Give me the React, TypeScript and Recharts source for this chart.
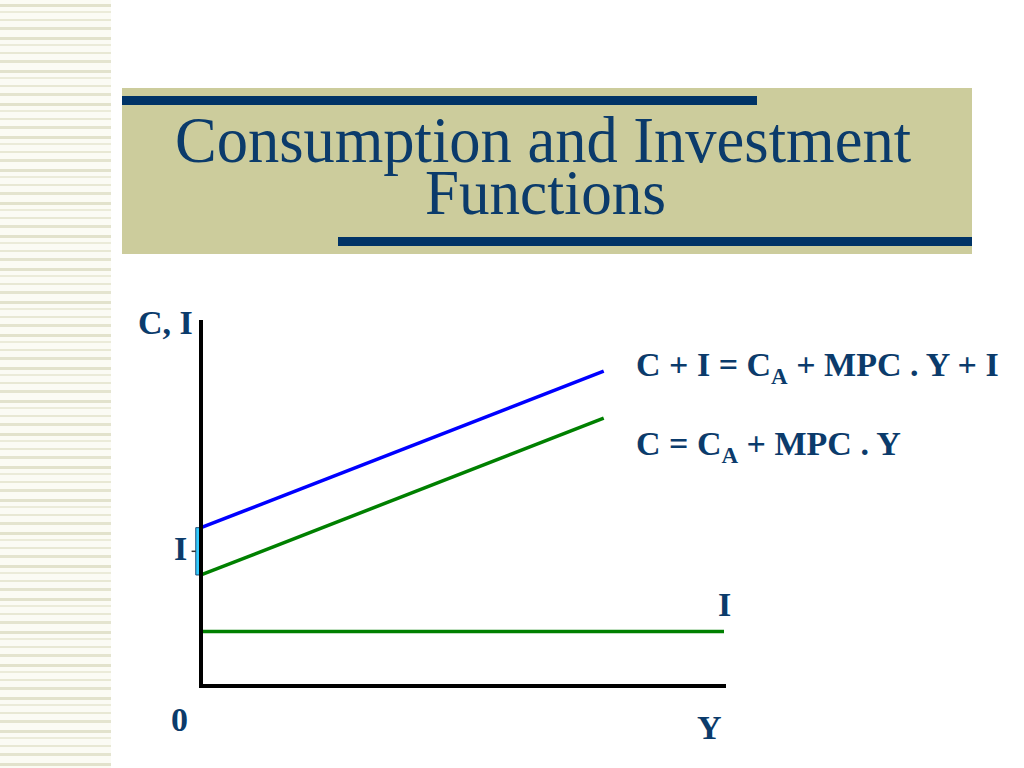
import { LineChart, Line, XAxis, YAxis, ReferenceLine, ReferenceArea } from 'recharts';

// income levels along the Y axis (0-100 scale)
const incomeLevels = [0, 77, 100];
// consumption C = CA + MPC . Y
const consumption = [30.5, 73.6, null];
// aggregate C + I
const consumptionPlusInvestment = [43.5, 86.5, null];
// autonomous investment I
const investment = [15, 15, 15];

const TEXT = '#0b3b6b';
const FONT = '"Liberation Serif", "Times New Roman", serif';

const chartData = incomeLevels.map((y, i) => ({
  income: y,
  c: consumption[i],
  ci: consumptionPlusInvestment[i],
  inv: investment[i],
}));

const stripes =
  'repeating-linear-gradient(to bottom, #fbfbf4 0px, #fbfbf4 4px, #e2e2cc 4px, #e2e2cc 7px, #fbfbf4 7px, #fbfbf4 11px, #ebebd9 11px, #ebebd9 13px, #fbfbf4 13px, #fbfbf4 19px, #e8e8d4 19px, #e8e8d4 21px, #fbfbf4 21px, #fbfbf4 27px, #e4e4cf 27px, #e4e4cf 30px, #fbfbf4 30px, #fbfbf4 33px)';

export default function App() {
  return (
    <div
      style={{
        position: 'absolute',
        left: 0,
        top: 0,
        width: 1024,
        height: 768,
        background: '#fff',
        overflow: 'hidden',
      }}
    >
      <div style={{ position: 'absolute', left: 0, top: 0, width: 111, height: 768, background: stripes }} />
      <div style={{ position: 'absolute', left: 122, top: 88, width: 850, height: 166, background: '#cccc9c' }} />
      <div style={{ position: 'absolute', left: 122, top: 96, width: 635, height: 9, background: '#003366' }} />
      <div style={{ position: 'absolute', left: 338, top: 237, width: 634, height: 9, background: '#003366' }} />

      <div style={{ position: 'absolute', left: 0, top: 0 }}>
        <LineChart
          width={1024}
          height={768}
          data={chartData}
          margin={{ top: 322, left: 201, right: 300, bottom: 82 }}
        >
          <XAxis dataKey="income" type="number" domain={[0, 100]} hide />
          <YAxis type="number" domain={[0, 100]} hide />
          <ReferenceArea
            x1={-1}
            x2={0}
            y1={30.5}
            y2={43.5}
            ifOverflow="visible"
            fill="#33ccff"
            fillOpacity={1}
            stroke="#1f4e79"
            strokeWidth={1}
          />
          <ReferenceLine
            segment={[{ x: -1.8, y: 37 }, { x: -1, y: 37 }]}
            ifOverflow="visible"
            stroke="#333"
            strokeWidth={1.5}
          />
          <Line dataKey="inv" stroke="#008000" strokeWidth={3.5} dot={false} isAnimationActive={false} />
          <Line dataKey="c" stroke="#008000" strokeWidth={3.5} dot={false} isAnimationActive={false} />
          <Line dataKey="ci" stroke="#0000ff" strokeWidth={3.5} dot={false} isAnimationActive={false} />
          <ReferenceLine
            segment={[{ x: 0, y: 0 }, { x: 0, y: 100 }]}
            ifOverflow="visible"
            stroke="#000"
            strokeWidth={4}
            strokeLinecap="square"
          />
          <ReferenceLine
            segment={[{ x: 0, y: 0 }, { x: 100, y: 0 }]}
            ifOverflow="visible"
            stroke="#000"
            strokeWidth={4}
            strokeLinecap="square"
          />
        </LineChart>
      </div>

      <svg
        width={1024}
        height={768}
        style={{ position: 'absolute', left: 0, top: 0, pointerEvents: 'none' }}
        fontFamily={FONT}
        fill={TEXT}
      >
        <text x={175} y={162} fontSize={66} textLength={736} lengthAdjust="spacingAndGlyphs">
          Consumption and Investment
        </text>
        <text x={425} y={214} fontSize={64} textLength={241} lengthAdjust="spacingAndGlyphs">
          Functions
        </text>

        <g fontWeight="bold" fontSize={34}>
          <text x={138} y={334}>C, I</text>
          <text x={636} y={376}>
            C + I = C<tspan fontSize={23} dy={8}>A</tspan>
            <tspan dy={-8}> + MPC . Y + I</tspan>
          </text>
          <text x={636} y={455}>
            C = C<tspan fontSize={23} dy={8}>A</tspan>
            <tspan dy={-8}> + MPC . Y</tspan>
          </text>
          <text x={174} y={560}>I</text>
          <text x={718} y={616}>I</text>
          <text x={171} y={731}>0</text>
          <text x={697} y={739}>Y</text>
        </g>
      </svg>
    </div>
  );
}
